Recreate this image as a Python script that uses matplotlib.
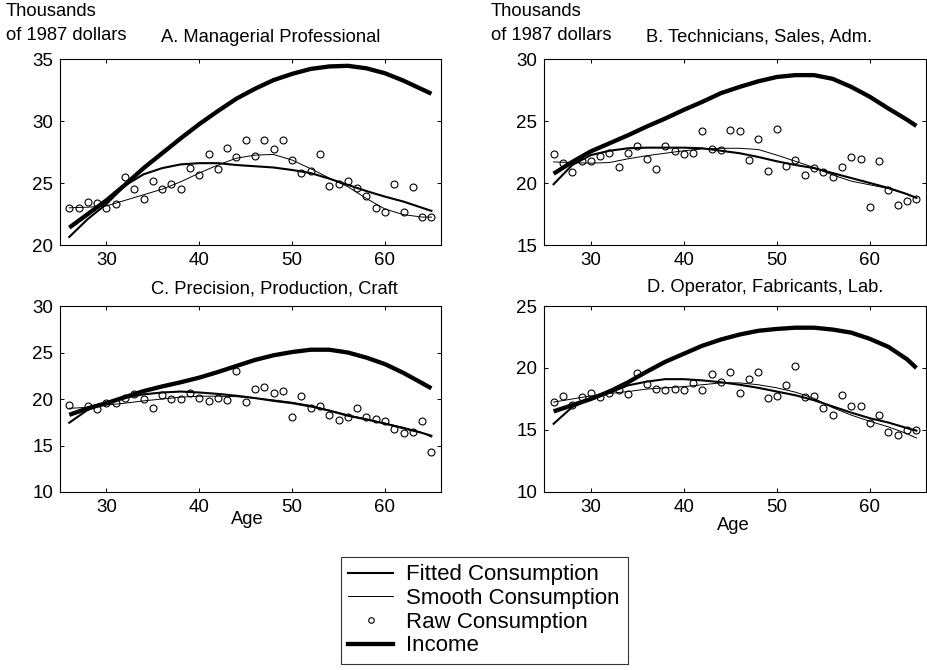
import numpy as np
import matplotlib
matplotlib.use('Agg')
import matplotlib.pyplot as plt
from matplotlib.lines import Line2D

plt.rcParams['font.family'] = ['Liberation Sans', 'DejaVu Sans']

### data
ages = np.arange(26, 66)
curve_ages = [26, 28, 30, 32, 34, 36, 38, 40, 42, 44, 46, 48, 50, 52, 54, 56, 58, 60, 62, 64, 65]

raw_a = [23.0, 23.0, 23.5, 23.4, 23.0, 23.3, 25.45, 24.55, 23.7, 25.2,
         24.55, 24.9, 24.55, 26.2, 25.65, 27.3, 26.15, 27.85, 27.1, 28.45,
         27.2, 28.45, 27.75, 28.5, 26.85, 25.8, 25.95, 27.3, 24.75, 24.95,
         25.2, 24.6, 23.95, 23.0, 22.7, 24.9, 22.65, 24.7, 22.25, 22.25]
inc_a = [21.4, 22.5, 23.6, 24.85, 26.2, 27.4, 28.6, 29.75, 30.8, 31.8, 32.6,
         33.3, 33.8, 34.2, 34.4, 34.45, 34.25, 33.85, 33.25, 32.55, 32.2]
fit_a = [20.65, 22.1, 23.3, 24.8, 25.7, 26.2, 26.5, 26.6, 26.6, 26.45, 26.35,
         26.25, 26.05, 25.8, 25.35, 24.85, 24.35, 23.9, 23.5, 23.0, 22.75]
smo_a = [23.0, 23.05, 23.15, 23.6, 24.05, 24.5, 25.1, 25.8, 26.45, 27.0, 27.25,
         27.3, 26.85, 26.15, 25.4, 24.7, 23.75, 22.9, 22.45, 22.25, 22.25]

raw_b = [22.35, 21.65, 20.9, 21.75, 21.75, 22.15, 22.4, 21.3, 22.45, 23.0,
         21.9, 21.15, 23.0, 22.55, 22.35, 22.45, 24.2, 22.75, 22.65, 24.3,
         24.2, 21.85, 23.55, 20.95, 24.35, 21.4, 21.85, 20.65, 21.2, 20.9,
         20.5, 21.3, 22.1, 21.95, 18.1, 21.75, 19.45, 18.2, 18.55, 18.75]
inc_b = [20.75, 21.7, 22.55, 23.2, 23.85, 24.55, 25.2, 25.9, 26.55, 27.25, 27.75,
         28.2, 28.55, 28.7, 28.7, 28.4, 27.75, 26.95, 26.0, 25.1, 24.6]
fit_b = [19.9, 21.45, 22.25, 22.6, 22.8, 22.85, 22.85, 22.85, 22.8, 22.6, 22.4,
         22.1, 21.75, 21.45, 21.2, 20.8, 20.4, 20.0, 19.6, 19.1, 18.8]
smo_b = [21.7, 21.65, 21.6, 21.65, 21.95, 22.2, 22.4, 22.6, 22.75, 22.8, 22.8,
         22.7, 22.25, 21.75, 21.25, 20.65, 20.15, 19.85, 19.55, 19.1, 18.8]

raw_c = [19.4, np.nan, 19.25, 18.95, 19.6, 19.55, 20.1, 20.5, 19.95, 19.0,
         20.45, 19.95, 19.95, 20.65, 20.15, 19.8, 20.15, 19.9, 23.0, 19.65,
         21.1, 21.25, 20.6, 20.9, 18.05, 20.35, 19.0, 19.2, 18.25, 17.7,
         18.05, 19.0, 18.05, 17.8, 17.65, 16.8, 16.3, 16.45, 17.6, 14.25]
inc_c = [18.3, 19.0, 19.55, 20.2, 20.85, 21.35, 21.8, 22.3, 22.9, 23.55, 24.2,
         24.7, 25.05, 25.3, 25.3, 25.0, 24.45, 23.75, 22.8, 21.7, 21.15]
fit_c = [17.45, 18.85, 19.6, 20.15, 20.5, 20.7, 20.8, 20.7, 20.55, 20.35, 20.1,
         19.8, 19.55, 19.2, 18.75, 18.2, 17.8, 17.35, 16.85, 16.35, 16.05]
smo_c = [19.0, 19.1, 19.35, 19.55, 19.8, 20.0, 20.2, 20.3, 20.3, 20.25, 20.1,
         19.9, 19.65, 19.3, 18.8, 18.3, 17.85, 17.4, 16.95, 16.4, 15.9]

raw_d = [17.25, 17.75, 17.05, 17.65, 17.95, 17.65, 18.0, 18.25, 17.9, 19.6,
         18.75, 18.3, 18.25, 18.3, 18.25, 18.8, 18.25, 19.5, 18.9, 19.7,
         18.0, 19.1, 19.7, 17.6, 17.75, 18.6, 20.15, 17.7, 17.75, 16.75,
         16.2, 17.8, 16.95, 16.95, 15.55, 16.25, 14.8, 14.6, 15.0, 15.0]
inc_d = [16.5, 17.0, 17.5, 18.1, 18.85, 19.7, 20.5, 21.15, 21.8, 22.3, 22.7,
         23.0, 23.15, 23.25, 23.25, 23.1, 22.85, 22.35, 21.7, 20.7, 20.0]
fit_d = [15.5, 16.85, 17.5, 18.0, 18.6, 18.9, 19.1, 19.1, 19.0, 18.85, 18.65,
         18.4, 18.1, 17.8, 17.4, 16.9, 16.4, 15.95, 15.6, 15.15, 14.95]
smo_d = [17.25, 17.5, 17.75, 17.95, 18.1, 18.3, 18.4, 18.5, 18.65, 18.8, 18.8,
         18.65, 18.4, 18.05, 17.55, 16.8, 16.2, 15.7, 15.25, 14.7, 14.35]

titles = ['A. Managerial Professional', 'B. Technicians, Sales, Adm.',
          'C. Precision, Production, Craft', 'D. Operator, Fabricants, Lab.']
ylims = [(20, 35), (15, 30), (10, 30), (10, 25)]
x_ticks = [30, 40, 50, 60]

W, H = 927., 670.
fig = plt.figure(figsize=(W / 100, H / 100), dpi=100)

def px_box(x0, y0, x1, y1):
    # pixel box (top-left origin) -> figure fraction rect
    return [x0 / W, 1 - y1 / H, (x1 - x0) / W, (y1 - y0) / H]

boxes = [px_box(60, 59, 440.7, 245), px_box(544.3, 59, 925.7, 245),
         px_box(60, 306, 440.7, 492), px_box(544.3, 306, 925.7, 492)]
panels = [(raw_a, inc_a, fit_a, smo_a), (raw_b, inc_b, fit_b, smo_b),
          (raw_c, inc_c, fit_c, smo_c), (raw_d, inc_d, fit_d, smo_d)]

for i in range(4):
    ax = fig.add_axes(boxes[i])
    raw, inc, fit, smo = panels[i]
    ax.plot(curve_ages, inc, color='black', linewidth=3.1, solid_capstyle='butt', zorder=3)
    ax.plot(curve_ages, fit, color='black', linewidth=1.5, zorder=3)
    ax.plot(curve_ages, smo, color='black', linewidth=0.7, zorder=3)
    ax.plot(ages, raw, linestyle='none', marker='o', markersize=5, markerfacecolor='none',
            markeredgecolor='black', markeredgewidth=0.8, zorder=4)
    ax.set_xlim(25, 66)
    lo, hi = ylims[i]
    ax.set_ylim(lo, hi)
    ax.set_yticks(np.arange(lo, hi + 1, 5))
    ax.set_xticks(x_ticks)
    ax.tick_params(direction='in', length=3, width=0.7, top=True, right=True,
                   labelsize=13.5, pad=5)
    for sp in ax.spines.values():
        sp.set_linewidth(0.8)

# panel labels and unit texts
fs = 13.2
fig.text(6 / W, 1 - 12 / H, 'Thousands', fontsize=fs, ha='left', va='center')
fig.text(6 / W, 1 - 35 / H, 'of 1987 dollars', fontsize=fs, ha='left', va='center')
fig.text(491 / W, 1 - 12 / H, 'Thousands', fontsize=fs, ha='left', va='center')
fig.text(491 / W, 1 - 35 / H, 'of 1987 dollars', fontsize=fs, ha='left', va='center')
fig.text(271 / W, 1 - 37 / H, titles[0], fontsize=fs, ha='center', va='center')
fig.text(759 / W, 1 - 37 / H, titles[1], fontsize=fs, ha='center', va='center')
fig.text(274 / W, 1 - 289 / H, titles[2], fontsize=fs, ha='center', va='center')
fig.text(765 / W, 1 - 288 / H, titles[3], fontsize=fs, ha='center', va='center')
fig.text(247 / W, 1 - 519 / H, 'Age', fontsize=fs, ha='center', va='center')
fig.text(733 / W, 1 - 525 / H, 'Age', fontsize=fs, ha='center', va='center')

handles = [Line2D([], [], color='black', linewidth=1.5),
           Line2D([], [], color='black', linewidth=0.7),
           Line2D([], [], linestyle='none', marker='o', markersize=4, markerfacecolor='none',
                  markeredgecolor='black', markeredgewidth=0.8),
           Line2D([], [], color='black', linewidth=3.1)]
labels = ['Fitted Consumption', 'Smooth Consumption', 'Raw Consumption', 'Income']
leg = fig.legend(handles, labels, loc='upper left', bbox_to_anchor=(340.7 / W, 1 - 556.7 / H),
                 fontsize=16, frameon=True, fancybox=False, shadow=False,
                 handlelength=2.0, handletextpad=0.6, labelspacing=0.12,
                 borderpad=0.35, borderaxespad=0)
leg.get_frame().set_edgecolor('black')
leg.get_frame().set_linewidth(0.8)

fig.savefig('out.png', dpi=100)
